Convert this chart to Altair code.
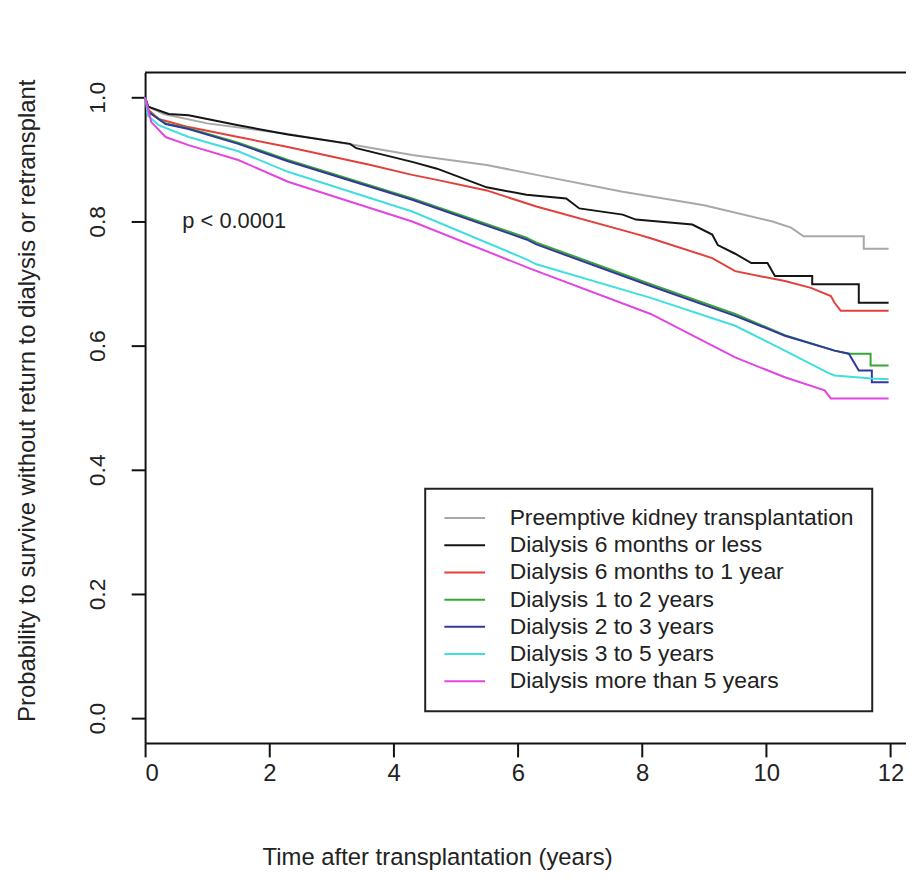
import altair as alt
import pandas as pd

FONT = "Liberation Sans"

groups = [
    "Preemptive kidney transplantation",
    "Dialysis 6 months or less",
    "Dialysis 6 months to 1 year",
    "Dialysis 1 to 2 years",
    "Dialysis 2 to 3 years",
    "Dialysis 3 to 5 years",
    "Dialysis more than 5 years",
]
colors = ["#a8a8a8", "#151515", "#e2403c", "#35a832", "#34389e", "#40dede", "#e246e2"]

# Kaplan-Meier curves (time in years, survival)
pre_t = [0, 0.05, 0.3, 1.0, 2.3, 3.37, 4.3, 5.5, 6.3, 7.69, 9.0, 10.1, 10.4, 10.6, 11.57, 11.57, 11.97]
pre_s = [1.0, 0.985, 0.973, 0.958, 0.941, 0.923, 0.907, 0.891, 0.875, 0.848, 0.826, 0.80, 0.79, 0.776, 0.776, 0.756, 0.756]

d6m_t = [0, 0.05, 0.38, 0.7, 1.5, 2.3, 3.3, 3.4, 4.3, 4.7, 5.5, 6.14, 6.78, 6.99, 7.69, 7.9, 8.81, 9.13, 9.22,
         9.5, 9.76, 10.02, 10.14, 10.74, 10.74, 11.49, 11.49, 11.97]
d6m_s = [1.0, 0.985, 0.973, 0.971, 0.955, 0.94, 0.925, 0.918, 0.896, 0.885, 0.855, 0.843, 0.837, 0.821, 0.811, 0.803,
         0.795, 0.779, 0.762, 0.748, 0.733, 0.733, 0.712, 0.712, 0.699, 0.699, 0.669, 0.669]

d1y_t = [0, 0.05, 0.22, 0.7, 1.5, 2.3, 3.63, 4.3, 4.7, 5.5, 6.3, 7.9, 8.14, 9.13, 9.5, 10.3, 10.72, 11.04, 11.1, 11.2, 11.97]
d1y_s = [1.0, 0.98, 0.965, 0.952, 0.936, 0.92, 0.891, 0.875, 0.867, 0.85, 0.824, 0.78, 0.773, 0.741, 0.72, 0.704,
         0.693, 0.68, 0.669, 0.656, 0.656]

d2y_t = [0, 0.06, 0.33, 0.7, 1.5, 2.3, 4.3, 6.14, 6.3, 8.14, 9.5, 10.3, 11.1, 11.33, 11.68, 11.68, 11.97]
d2y_s = [1.0, 0.976, 0.958, 0.95, 0.927, 0.899, 0.837, 0.774, 0.766, 0.699, 0.651, 0.617, 0.592, 0.587, 0.587, 0.568, 0.568]

d3y_t = [0, 0.06, 0.33, 0.7, 1.5, 2.3, 4.3, 6.14, 6.3, 8.14, 9.5, 10.3, 11.1, 11.33, 11.49, 11.7, 11.7, 11.97]
d3y_s = [1.0, 0.976, 0.957, 0.949, 0.925, 0.897, 0.835, 0.771, 0.763, 0.696, 0.648, 0.616, 0.592, 0.587, 0.56, 0.56,
         0.541, 0.541]

d5y_t = [0, 0.05, 0.22, 0.7, 1.5, 2.3, 4.3, 6.14, 6.3, 8.14, 9.5, 10.3, 10.98, 11.1, 11.7, 11.97]
d5y_s = [1.0, 0.97, 0.955, 0.936, 0.913, 0.88, 0.816, 0.739, 0.731, 0.677, 0.632, 0.592, 0.557, 0.552, 0.547, 0.546]

dm5_t = [0, 0.1, 0.33, 0.7, 1.5, 2.3, 4.3, 6.2, 8.14, 9.5, 10.3, 10.94, 11.04, 11.97]
dm5_s = [1.0, 0.96, 0.936, 0.923, 0.899, 0.864, 0.80, 0.724, 0.651, 0.581, 0.549, 0.528, 0.515, 0.515]

series = [(pre_t, pre_s), (d6m_t, d6m_s), (d1y_t, d1y_s), (d2y_t, d2y_s),
          (d3y_t, d3y_s), (d5y_t, d5y_s), (dm5_t, dm5_s)]

x_ticks = [0, 2, 4, 6, 8, 10, 12]
y_ticks = [0.0, 0.2, 0.4, 0.6, 0.8, 1.0]

p_label = "p < 0.0001"
p_t, p_s = 0.6, 0.80

rows = []
for g, (ts, ss) in zip(groups, series):
    for i, (t, s) in enumerate(zip(ts, ss)):
        rows.append({"group": g, "t": t, "s": s, "idx": i})
df = pd.DataFrame(rows)

W, H = 766, 675

x_enc = alt.X(
    "t:Q",
    scale=alt.Scale(domain=[0, 12.25], nice=False, zero=False),
    axis=alt.Axis(
        values=x_ticks, format="d", title="Time after transplantation (years)",
        grid=False, domainColor="#111", domainWidth=2, tickColor="#111", tickWidth=2, tickSize=14,
        labelFont=FONT, labelFontSize=24, labelColor="#222", labelPadding=5,
        titleFont=FONT, titleFontSize=24, titleFontWeight="normal", titleColor="#222",
        titleX=294, titleY=115, titleAnchor="middle", titleAlign="center", titleBaseline="middle",
    ),
)
y_enc = alt.Y(
    "s:Q",
    scale=alt.Scale(domain=[-0.04, 1.04], nice=False, zero=False),
    axis=alt.Axis(
        values=y_ticks, format=".1f",
        title="Probability to survive without return to dialysis or retransplant",
        grid=False, domainColor="#111", domainWidth=2, tickColor="#111", tickWidth=2, tickSize=14,
        labelFont=FONT, labelFontSize=23, labelColor="#222", labelAngle=270,
        labelAlign="center", labelBaseline="bottom", labelPadding=22,
        titleFont=FONT, titleFontSize=24, titleFontWeight="normal", titleColor="#222",
        titleAngle=270, titleX=-118, titleY=330, titleAlign="center", titleBaseline="middle",
    ),
)

lines = alt.Chart(df).mark_line(strokeWidth=2).encode(
    x=x_enc,
    y=y_enc,
    color=alt.Color(
        "group:N",
        scale=alt.Scale(domain=groups, range=colors),
        sort=groups,
        legend=alt.Legend(
            title=None, orient="none", legendX=282, legendY=419,
            symbolType="M-1,0L3,0", symbolSize=420, symbolStrokeWidth=2,
            labelFont=FONT, labelFontSize=23, labelColor="#222", labelOffset=44, labelLimit=600,
            padding=18, rowPadding=3.4, strokeColor="#222", fillColor="white",
        ),
    ),
    order="idx:Q",
)

ptext = alt.Chart(pd.DataFrame({"t": [p_t], "s": [p_s], "label": [p_label]})).mark_text(
    align="left", baseline="middle", font=FONT, fontSize=22, color="#222"
).encode(x="t:Q", y="s:Q", text="label:N")

top_frame = alt.Chart(pd.DataFrame({"a": [0]})).mark_rule(color="#111", strokeWidth=2).encode(
    x=alt.value(0), x2=alt.value(W), y=alt.value(0)
)

chart = alt.layer(lines, ptext, top_frame).properties(
    width=W, height=H,
    autosize=alt.AutoSizeParams(type="none"),
    padding={"left": 138, "top": 62, "right": 0, "bottom": 128},
    background="white",
).configure_view(stroke=None).configure_legend(strokeWidth=2)

chart.save("out.html", embed_options={"renderer": "svg", "actions": False})
